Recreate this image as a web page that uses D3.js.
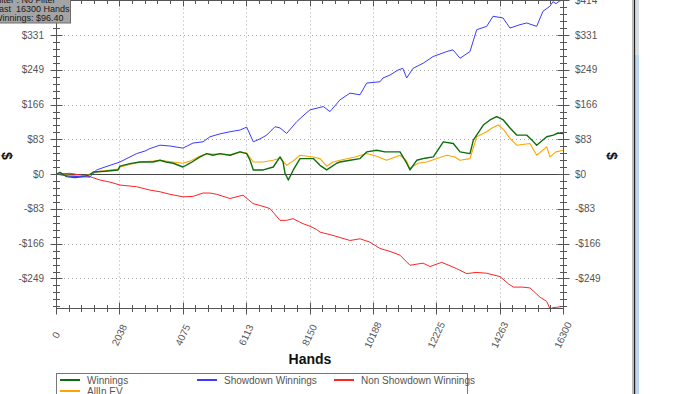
<!DOCTYPE html>
<html>
<head>
<meta charset="utf-8">
<script src="https://cdn.jsdelivr.net/npm/d3@7"></script>
<style>
body { margin: 0; background: #fff; overflow: hidden; }
svg { display: block; }
text { font-family: "Liberation Sans", Arial, sans-serif; }
</style>
</head>
<body>
<div id="chart"></div>
<script>
// hands played -> dollars
let winnings = [[0,0],[129,4],[344,-6],[611,-8],[878,-6],[1093,-1],[1199,5],[1575,7],[1993,10],[2058,19],[2379,25],[2701,29],[3119,29],[3344,33],[3537,29],[3771,26],[4083,17],[4308,26],[4630,41],[4845,49],[5048,45],[5273,49],[5594,45],[5916,53],[6131,49],[6238,33],[6343,10],[6665,10],[6986,17],[7202,41],[7299,29],[7363,2],[7469,-14],[7629,10],[7845,37],[8273,37],[8488,21],[8703,10],[9024,26],[9131,29],[9452,33],[9774,37],[9989,53],[10311,57],[10578,53],[10844,53],[11060,53],[11275,26],[11381,10],[11596,33],[11864,38],[12131,41],[12452,77],[12773,73],[12989,53],[13310,49],[13417,81],[13738,117],[13953,129],[14168,137],[14381,129],[14596,110],[14811,93],[15133,93],[15303,81],[15454,69],[15776,89],[15990,93],[16140,98],[16300,96.4]];

let allinEV = [[0,0],[344,-2],[878,-5],[1093,0],[1415,7],[1993,12],[2058,17],[2701,29],[3119,31],[3344,33],[3761,29],[4083,26],[4308,31],[4630,43],[4845,48],[5273,48],[5594,45],[5916,53],[6131,50],[6343,29],[6655,29],[6976,33],[7202,38],[7417,21],[7620,31],[7845,45],[8263,41],[8488,37],[8703,19],[8906,29],[9131,33],[9613,41],[9989,49],[10288,43],[10631,33],[11060,45],[11253,33],[11381,14],[11638,26],[11918,29],[12561,45],[12828,41],[12989,33],[13310,37],[13526,89],[13847,101],[14018,110],[14220,117],[14403,105],[14596,85],[14811,69],[15239,73],[15454,45],[15776,65],[15882,41],[16075,53],[16300,57]];

let showdown = [[0,0],[450,-5],[1093,-7],[1190,2],[1308,10],[1575,17],[2058,29],[2379,41],[2594,49],[2861,55],[3022,61],[3344,69],[3665,67],[4083,62],[4404,74],[4726,77],[4951,89],[5273,96],[5594,101],[5916,105],[6131,112],[6343,77],[6559,84],[6774,93],[7041,113],[7202,110],[7417,97],[7739,125],[8005,143],[8166,153],[8594,161],[8809,149],[9131,177],[9452,193],[9774,189],[9989,217],[10417,220],[10513,229],[10738,236],[10995,248],[11150,252],[11275,229],[11478,252],[11800,264],[12121,280],[12561,292],[12764,296],[12989,276],[13310,292],[13526,344],[13847,352],[14050,376],[14372,372],[14596,348],[14918,356],[15133,360],[15454,352],[15657,388],[15882,400],[15978,411],[16075,406],[16203,413],[16300,414]];

let nonShowdown = [[0,0],[450,2],[772,-2],[1093,-6],[1415,-14],[1736,-19],[2058,-26],[2594,-30],[3022,-38],[3344,-42],[3665,-48],[4083,-54],[4404,-53],[4726,-45],[4951,-45],[5166,-48],[5594,-58],[6012,-50],[6333,-70],[6623,-76],[6880,-82],[7202,-110],[7417,-110],[7620,-106],[7941,-118],[8166,-124],[8381,-132],[8488,-138],[8906,-146],[9452,-158],[9774,-154],[10095,-162],[10417,-177],[10738,-184],[11060,-193],[11381,-217],[11800,-212],[12025,-220],[12400,-210],[12882,-225],[13204,-237],[13503,-234],[13847,-236],[14275,-244],[14542,-261],[14702,-269],[14982,-269],[15239,-271],[15561,-293],[15776,-303],[15882,-321],[15978,-318],[16097,-317],[16300,-315]];

let yTicks = [-248.52, -165.68, -82.84, 0, 82.84, 165.68, 248.52, 331.36, 414.2];
let yTickLabels = ["-$249", "-$166", "-$83", "$0", "$83", "$166", "$249", "$331", "$414"];
let xTicks = [0, 2037.5, 4075, 6112.5, 8150, 10187.5, 12225, 14262.5, 16300];
let xTickLabels = ["0", "2038", "4075", "6113", "8150", "10188", "12225", "14263", "16300"];

let series = [
  {name: "Non Showdown Winnings", data: nonShowdown, color: "#ff2424", w: 1},
  {name: "AllIn EV", data: allinEV, color: "#ffa500", w: 1.1},
  {name: "Winnings", data: winnings, color: "#0e6e0e", w: 1.4},
  {name: "Showdown Winnings", data: showdown, color: "#3b3bff", w: 1}
];
let legendOrder = ["Winnings", "Showdown Winnings", "Non Showdown Winnings", "AllIn EV"];

let width = 700, height = 394;
let plotLeft = 56, plotRight = 563, plotTop = 0.5, plotBottom = 308.5;

let svg = d3.select("#chart").append("svg")
  .attr("width", width)
  .attr("height", height)
  .style("background", "#fff");

let x = d3.scaleLinear().domain([0, 16300]).range([plotLeft, plotRight]);
let y = d3.scaleLinear().domain([-320, 414.2]).range([plotBottom, 0.24]);

let snap = v => Math.round(v) + 0.5;

// grid
svg.append("g").selectAll("line")
  .data(yTicks.filter(d => d != 0 && d < 414))
  .enter().append("line")
  .attr("x1", plotLeft).attr("x2", plotRight)
  .attr("y1", d => snap(y(d))).attr("y2", d => snap(y(d)))
  .attr("stroke", "#aaa").attr("stroke-dasharray", "1,3");

svg.append("g").selectAll("line")
  .data(xTicks.slice(1, -1))
  .enter().append("line")
  .attr("y1", plotTop).attr("y2", plotBottom)
  .attr("x1", d => snap(x(d))).attr("x2", d => snap(x(d)))
  .attr("stroke", "#aaa").attr("stroke-dasharray", "1,3");

// zero line
svg.append("line")
  .attr("x1", plotLeft).attr("x2", plotRight)
  .attr("y1", snap(y(0))).attr("y2", snap(y(0)))
  .attr("stroke", "#444").attr("stroke-width", 1);

// series
svg.append("clipPath").attr("id", "clip")
  .append("rect").attr("x", plotLeft).attr("y", -2).attr("width", plotRight - plotLeft).attr("height", plotBottom + 2);

let line = d3.line().x(d => x(d[0])).y(d => y(d[1]));

svg.append("g").attr("clip-path", "url(#clip)")
  .selectAll("path")
  .data(series)
  .enter().append("path")
  .attr("d", d => line(d.data))
  .attr("fill", "none")
  .attr("stroke", d => d.color)
  .attr("stroke-width", d => d.w)
  .attr("stroke-linejoin", "round");

// frame with ticks on all four sides
let frame = svg.append("g").attr("stroke", "#555").attr("stroke-width", 1);
frame.append("rect")
  .attr("x", plotLeft + 0.5).attr("y", plotTop)
  .attr("width", plotRight - plotLeft).attr("height", plotBottom - plotTop)
  .attr("fill", "none");

let yMinor = d3.range(-19, 26).map(k => k * 82.84 / 5).filter(v => v >= -320 && v <= 414.3);
let xMinor = d3.range(0, 41).map(k => k * 16300 / 40);
let isMajorY = d => yTicks.some(t => Math.abs(t - d) < 0.1);
let isMajorX = d => xTicks.some(t => Math.abs(t - d) < 0.1);

[plotLeft + 0.5, plotRight + 0.5].forEach(ax => {
  frame.append("g").selectAll("line")
    .data(yMinor)
    .enter().append("line")
    .attr("x1", d => ax - (isMajorY(d) ? 6 : 3.5))
    .attr("x2", d => ax + (isMajorY(d) ? 6 : 3.5))
    .attr("y1", d => snap(y(d))).attr("y2", d => snap(y(d)));
});

frame.append("g").selectAll("line")
  .data(xMinor)
  .enter().append("line")
  .attr("x1", d => snap(x(d))).attr("x2", d => snap(x(d)))
  .attr("y1", d => plotBottom - (isMajorX(d) ? 6 : 3.5))
  .attr("y2", d => plotBottom + (isMajorX(d) ? 6 : 3.5));

frame.append("g").selectAll("line")
  .data(xMinor)
  .enter().append("line")
  .attr("x1", d => snap(x(d))).attr("x2", d => snap(x(d)))
  .attr("y1", plotTop)
  .attr("y2", d => plotTop + (isMajorX(d) ? 6 : 3.5));

// tick labels (the top-left $414 sits under the info box, as in the original)
svg.append("g").selectAll("text")
  .data(yTicks)
  .enter().append("text")
  .attr("x", plotLeft - 12)
  .attr("y", d => y(d) + 3.5)
  .attr("text-anchor", "end")
  .attr("font-size", 10)
  .attr("fill", "#555")
  .text((d, i) => yTickLabels[i]);

svg.append("g").selectAll("text")
  .data(yTicks)
  .enter().append("text")
  .attr("x", plotRight + 12)
  .attr("y", d => y(d) + 3.5)
  .attr("text-anchor", "start")
  .attr("font-size", 10)
  .attr("fill", "#555")
  .text((d, i) => yTickLabels[i]);

svg.append("g").selectAll("text")
  .data(xTicks)
  .enter().append("text")
  .attr("transform", d => "translate(" + x(d) + ",335) rotate(-65)")
  .attr("text-anchor", "middle")
  .attr("dy", "0.35em")
  .attr("font-size", 10)
  .attr("fill", "#555")
  .text((d, i) => xTickLabels[i]);

// axis titles
svg.append("text")
  .attr("x", 310).attr("y", 364)
  .attr("text-anchor", "middle")
  .attr("font-size", 14).attr("font-weight", "bold")
  .attr("fill", "#111")
  .text("Hands");

[7, 612].forEach(cx => {
  svg.append("text")
    .attr("transform", "translate(" + cx + ",156) rotate(90)")
    .attr("text-anchor", "middle")
    .attr("dy", "0.35em")
    .attr("font-size", 14).attr("font-weight", "bold")
    .attr("fill", "#111")
    .text("$");
});

// legend
let legend = svg.append("g");
legend.append("rect")
  .attr("x", 56.5).attr("y", 373.5)
  .attr("width", 411).attr("height", 30)
  .attr("fill", "#fff").attr("stroke", "#777");

let legendPos = [[60, 380], [197, 380], [334, 380], [60, 391]];
legendOrder.forEach((name, i) => {
  let s = series.find(d => d.name == name);
  let p = legendPos[i];
  legend.append("line")
    .attr("x1", p[0]).attr("x2", p[0] + 20)
    .attr("y1", p[1]).attr("y2", p[1])
    .attr("stroke", s.color).attr("stroke-width", 2);
  legend.append("text")
    .attr("x", p[0] + 27).attr("y", p[1] + 3.5)
    .attr("font-size", 10)
    .attr("fill", "#555")
    .text(name);
});

// info box top left
let info = svg.append("g");
info.append("rect")
  .attr("x", -10).attr("y", -10)
  .attr("width", 80.5).attr("height", 33)
  .attr("fill", "#a4a4a4").attr("stroke", "#6e6e6e");
info.selectAll("text")
  .data(["Filter : No Filter", "Last  16300 Hands", "Winnings: $96.40"])
  .enter().append("text")
  .attr("x", -6)
  .attr("y", (d, i) => 2.5 + i * 9.2)
  .attr("font-size", 9)
  .attr("fill", "#1a1a1a")
  .style("white-space", "pre")
  .text(d => d);

// window edge on the right
svg.append("rect").attr("x", 632.5).attr("y", 0).attr("width", 1).attr("height", height).attr("fill", "#777");
svg.append("rect").attr("x", 634).attr("y", 0).attr("width", 1.5).attr("height", height).attr("fill", "#222");
svg.append("rect").attr("x", 635.5).attr("y", 0).attr("width", 3.5).attr("height", height).attr("fill", "#bcd6f0");
svg.append("rect").attr("x", 635.5).attr("y", 0).attr("width", 3.5).attr("height", 55).attr("fill", "#d8dde2");
</script>
</body>
</html>
